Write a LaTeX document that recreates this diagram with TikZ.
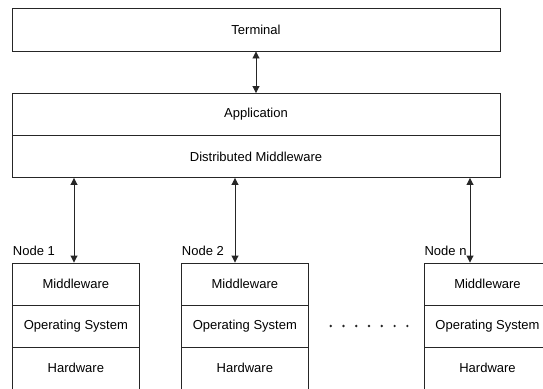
\documentclass[tikz,border=0pt]{standalone}
\usepackage{fontspec}
\setmainfont{Liberation Sans}
\usetikzlibrary{arrows.meta}
\begin{document}
\begin{tikzpicture}[x=1pt,y=-1pt,
  box/.style={draw=black!85, line width=0.9pt, fill=white, inner sep=0pt,
    minimum height=42pt, font=\fontsize{13}{15}\selectfont},
  wide/.style={box, minimum width=488pt},
  layer/.style={box, minimum width=126.3pt},
  lab/.style={inner sep=0pt, anchor=west, font=\fontsize{13}{15}\selectfont},
  arr/.style={draw=black!85, line width=0.9pt, {Triangle[length=7pt,width=7pt]}-{Triangle[length=7pt,width=7pt]}}]
\useasboundingbox (0,0) rectangle (543,388);
\clip (0,0) rectangle (543,388);

% top stack
\node[wide, minimum height=43pt] (term) at (256,29.5) {Terminal};
\node[wide] (app) at (256,114.5) {Application};
\node[wide] (dm) at (256,156.5) {Distributed Middleware};

% computing nodes
\foreach \n/\cx in {1/75.85, 2/244.85, n/487.5}{
  \node[layer] (mw\n) at (\cx,284) {Middleware};
  \node[layer] (os\n) at (\cx,326) {Operating System};
  \node[layer] (hw\n) at (\cx,368) {Hardware};
  \node[lab] (lab\n) at ([xshift=0.5pt,yshift=11.5pt]mw\n.north west) {Node \n};
}

% connectors
\coordinate (c0) at (256,0);
\coordinate (c1) at (74,0);
\coordinate (c2) at (235,0);
\coordinate (cn) at (470,0);
\draw[arr] (term.south -| c0) -- (app.north -| c0);
\draw[arr] (dm.south -| c1) -- (mw1.north -| c1);
\draw[arr] (dm.south -| c2) -- (mw2.north -| c2);
\draw[arr] (dm.south -| cn) -- (mwn.north -| cn);

% ellipsis between node 2 and node n
\foreach \i in {0,...,6}
  \fill[black!85] (330.7+12.77*\i,326) circle (1.3pt);
\end{tikzpicture}
\end{document}
